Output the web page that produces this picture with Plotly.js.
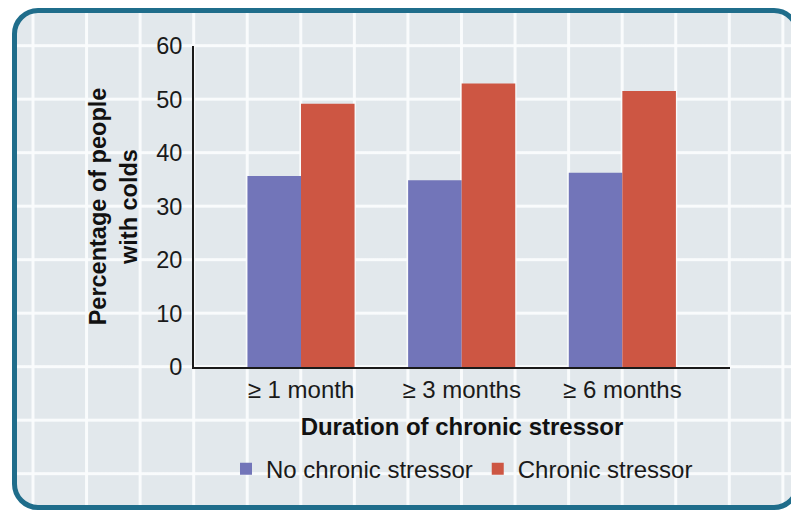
<!DOCTYPE html>
<html>
<head>
<meta charset="utf-8">
<script src="https://cdn.plot.ly/plotly-3.0.1.min.js"></script>
<style>
  html, body { margin: 0; padding: 0; background: #ffffff; overflow: hidden; }
  #wrap { position: relative; width: 791px; height: 510px; overflow: hidden; }
  #frame {
    position: absolute; left: 12px; top: 8px; width: 778px; height: 492px;
    border: 5px solid #1f6d8b; border-radius: 26px;
    background-color: #e2e8ec;
    background-image:
      linear-gradient(to right, rgba(250,252,253,0.95) 3px, transparent 3px),
      linear-gradient(to bottom, rgba(250,252,253,0.95) 3px, transparent 3px);
    background-size: 53.57px 53.5px, 53.57px 53.5px;
    background-position: 14.5px 0px, 0px 31.2px;
  }
  #chart { position: absolute; left: 0; top: 0; width: 791px; height: 510px; }
</style>
</head>
<body>
<div id="wrap">
  <div id="frame"></div>
  <div id="chart"></div>
</div>
<script>
const categories = ["\u2265 1 month", "\u2265 3 months", "\u2265 6 months"];
const noStressor = [35.7, 34.9, 36.3];
const chronicStressor = [49.2, 53.0, 51.6];
const seriesNames = ["No chronic stressor", "Chronic stressor"];
const yTicks = [0, 10, 20, 30, 40, 50, 60];

const FONT = '"Liberation Sans", Arial, sans-serif';

const traces = [
  { type: 'bar', name: seriesNames[0], x: categories, y: noStressor,
    marker: { color: '#7275b9' }, hoverinfo: 'y' },
  { type: 'bar', name: seriesNames[1], x: categories, y: chronicStressor,
    marker: { color: '#cd5643' }, hoverinfo: 'y' }
];

const layout = {
  width: 791, height: 510,
  margin: { l: 194, r: 61, t: 46, b: 143 },
  paper_bgcolor: 'rgba(0,0,0,0)',
  plot_bgcolor: 'rgba(0,0,0,0)',
  font: { family: FONT, size: 24, color: '#1a1a1a' },
  barmode: 'group',
  bargap: 0.3333, bargroupgap: 0,
  showlegend: true,
  legend: {
    orientation: 'h', x: 0.5, xanchor: 'center', y: -0.318, yanchor: 'middle',
    font: { family: FONT, size: 24, color: '#1a1a1a' },
    bgcolor: 'rgba(0,0,0,0)', traceorder: 'normal'
  },
  xaxis: {
    type: 'category', range: [-0.666, 2.67],
    showline: true, linecolor: '#1a1a1a', linewidth: 2,
    showgrid: false, zeroline: false, ticks: '',
    tickfont: { family: FONT, size: 24, color: '#1a1a1a' },
    title: { text: '<b>Duration of chronic stressor</b>', standoff: 16,
             font: { family: FONT, size: 24, color: '#111' } },
    automargin: false, fixedrange: true
  },
  yaxis: {
    range: [0, 60], tickvals: yTicks, ticktext: yTicks.map(String),
    showline: true, linecolor: '#1a1a1a', linewidth: 2,
    showgrid: false, zeroline: false, ticks: '',
    ticklabelstandoff: 5,
    tickfont: { family: FONT, size: 23.5, color: '#1a1a1a' },
    title: { text: '<b>Percentage of people<br>with colds</b>', standoff: 12,
             font: { family: FONT, size: 23.5, color: '#111' } },
    automargin: false, fixedrange: true
  }
};

Plotly.newPlot('chart', traces, layout, { displayModeBar: false, staticPlot: true });
</script>
</body>
</html>
